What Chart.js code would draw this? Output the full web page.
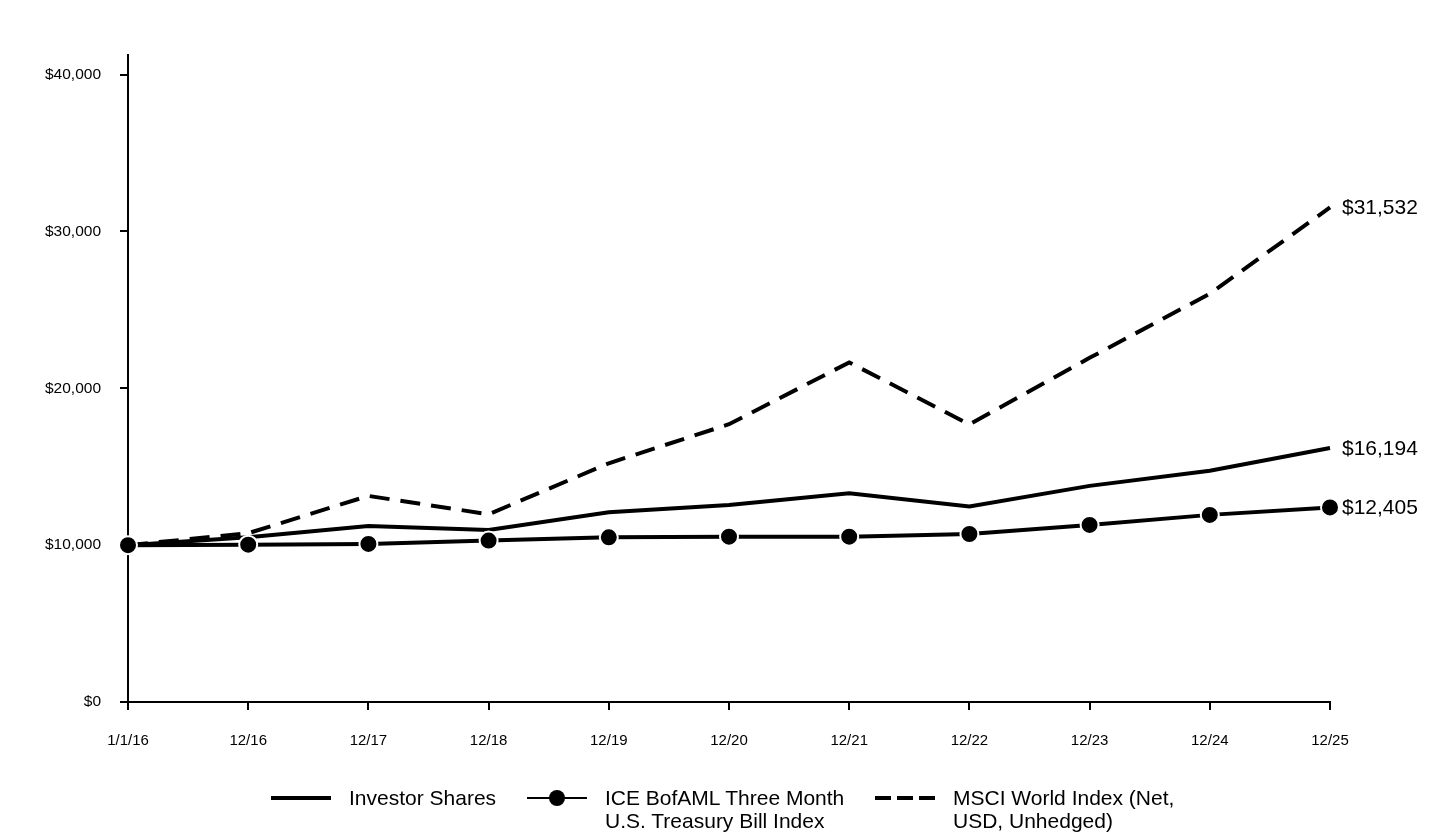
<!DOCTYPE html>
<html lang="en">
<head>
    <meta charset="UTF-8" />
    <title>Growth of $10,000</title>
    <script src="https://cdn.jsdelivr.net/npm/chart.js"></script>
    <style>
        body { margin: 0; background: #fff; font-family: 'Liberation Sans', Arial, sans-serif; }
        #wrap { position: relative; width: 1440px; height: 840px; }
        #legend { position: absolute; top: 786px; left: 0; width: 1440px; font-size: 21px; color: #000; }
        .item { position: absolute; top: 0; line-height: 23px; }
        .item svg { position: absolute; top: 1px; }
    </style>
</head>
<body>
    <div id="wrap">
        <canvas id="growthChart" width="1440" height="840"></canvas>
        <div id="legend"></div>
    </div>

    <script>
        const periods = ['1/1/16', '12/16', '12/17', '12/18', '12/19', '12/20', '12/21', '12/22', '12/23', '12/24', '12/25'];
        const investorShares = [10000, 10500, 11220, 10970, 12100, 12560, 13310, 12460, 13780, 14750, 16194];
        const treasuryIndex = [10000, 10030, 10080, 10290, 10500, 10540, 10540, 10710, 11290, 11930, 12405];
        const msciWorld = [10000, 10760, 13140, 11970, 15220, 17710, 21650, 17700, 21940, 26030, 31532];
        const yTicks = [0, 10000, 20000, 30000, 40000];

        const fmt = v => '$' + v.toLocaleString('en-US');

        // writes the ending value next to the last point of each line
        const endLabels = {
            id: 'endLabels',
            afterDatasetsDraw(chart) {
                const ctx = chart.ctx;
                ctx.save();
                ctx.font = '21px "Liberation Sans", Arial, sans-serif';
                ctx.fillStyle = '#000';
                ctx.textBaseline = 'middle';
                ctx.textAlign = 'left';
                chart.data.datasets.forEach((ds, i) => {
                    const meta = chart.getDatasetMeta(i);
                    const pt = meta.data[meta.data.length - 1];
                    ctx.fillText(fmt(ds.data[ds.data.length - 1]), pt.x + 12, pt.y + 1);
                });
                ctx.restore();
            }
        };

        const ctx = document.getElementById('growthChart').getContext('2d');
        new Chart(ctx, {
            type: 'line',
            data: {
                labels: periods,
                datasets: [
                    {
                        label: 'Investor Shares',
                        data: investorShares,
                        borderColor: '#000',
                        borderWidth: 4,
                        pointRadius: 0,
                        tension: 0,
                        order: 2
                    },
                    {
                        label: 'ICE BofAML Three Month U.S. Treasury Bill Index',
                        data: treasuryIndex,
                        borderColor: '#000',
                        borderWidth: 4,
                        pointRadius: 9,
                        pointBackgroundColor: '#000',
                        pointBorderColor: '#fff',
                        pointBorderWidth: 2,
                        tension: 0,
                        order: 0
                    },
                    {
                        label: 'MSCI World Index (Net, USD, Unhedged)',
                        data: msciWorld,
                        borderColor: '#000',
                        borderWidth: 4,
                        borderDash: [20, 11],
                        pointRadius: 0,
                        tension: 0,
                        order: 1
                    }
                ]
            },
            options: {
                responsive: false,
                animation: false,
                layout: { padding: { top: 55, right: 110, left: 0, bottom: 0 } },
                plugins: {
                    legend: { display: false },
                    tooltip: { enabled: false }
                },
                scales: {
                    x: {
                        offset: false,
                        grid: { drawOnChartArea: false, color: '#000', lineWidth: 2, tickLength: 8 },
                        border: { color: '#000', width: 2 },
                        ticks: {
                            color: '#000',
                            padding: 22,
                            maxRotation: 0,
                            autoSkip: false,
                            font: { family: '"Liberation Sans", Arial, sans-serif', size: 15 }
                        },
                        afterFit(scale) { scale.height = 138; }
                    },
                    y: {
                        min: 0,
                        max: 41250,
                        afterBuildTicks(scale) { scale.ticks = yTicks.map(v => ({ value: v })); },
                        grid: { drawOnChartArea: false, color: '#000', lineWidth: 2, tickLength: 8 },
                        border: { color: '#000', width: 2 },
                        ticks: {
                            color: '#000',
                            padding: 19,
                            callback: v => fmt(v),
                            font: { family: '"Liberation Sans", Arial, sans-serif', size: 15.5 }
                        },
                        afterFit(scale) { scale.width = 128; }
                    }
                }
            },
            plugins: [endLabels]
        });

        // legend drawn as html under the plot
        const legendItems = [
            { lines: ['Investor Shares'], left: 271, sample: '<line x1="0" y1="11" x2="60" y2="11" stroke="#000" stroke-width="4"/>' },
            { lines: ['ICE BofAML Three Month', 'U.S. Treasury Bill Index'], left: 527, sample: '<line x1="0" y1="11" x2="60" y2="11" stroke="#000" stroke-width="2"/><circle cx="30" cy="11" r="8" fill="#000"/>' },
            { lines: ['MSCI World Index (Net,', 'USD, Unhedged)'], left: 875, sample: '<line x1="0" y1="11" x2="60" y2="11" stroke="#000" stroke-width="4" stroke-dasharray="16 6"/>' }
        ];
        const legend = document.getElementById('legend');
        legendItems.forEach(it => {
            const el = document.createElement('div');
            el.className = 'item';
            el.style.left = it.left + 'px';
            el.innerHTML = '<svg width="60" height="22">' + it.sample + '</svg>' +
                '<div style="margin-left:78px">' + it.lines.join('<br>') + '</div>';
            legend.appendChild(el);
        });
    </script>
</body>
</html>
